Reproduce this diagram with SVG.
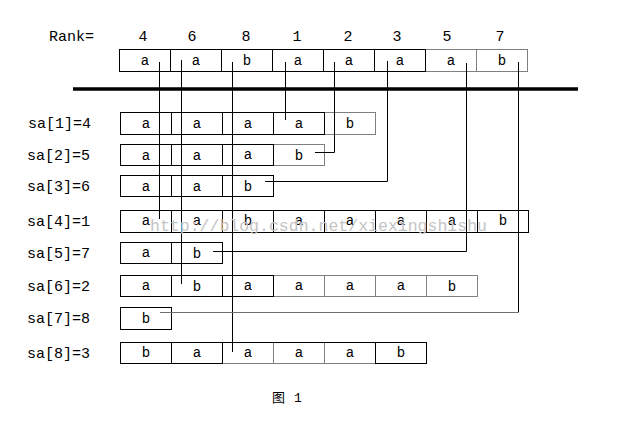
<svg xmlns="http://www.w3.org/2000/svg" width="619" height="430" viewBox="0 0 619 430">
<style>
.bg{fill:#fff}
.k{fill:#fff;stroke:#000;stroke-width:1}
.g{fill:#fff;stroke:#808080;stroke-width:1}
.c{font-family:"Liberation Mono","DejaVu Sans Mono",monospace;font-size:14px;fill:#000;text-anchor:middle}
.lbl{font-family:"Liberation Mono","DejaVu Sans Mono",monospace;font-size:15px;fill:#000}
.num{font-family:"Liberation Mono","DejaVu Sans Mono",monospace;font-size:15px;fill:#000;text-anchor:middle}
.wm{font-family:"Liberation Mono","DejaVu Sans Mono",monospace;font-size:17px;fill:#c4c4c4}
.ln{fill:none;stroke:#000;stroke-width:1}
.lg{fill:none;stroke:#707070;stroke-width:1}
</style>
<rect class="bg" x="0" y="0" width="619" height="430"/>

<g id="rank">
<text class="lbl" x="49" y="41">Rank=</text>
<text class="num" x="143" y="41">4</text>
<text class="num" x="192" y="41">6</text>
<text class="num" x="246" y="41">8</text>
<text class="num" x="297" y="41">1</text>
<text class="num" x="348" y="41">2</text>
<text class="num" x="397" y="41">3</text>
<text class="num" x="447" y="41">5</text>
<text class="num" x="500" y="41">7</text>
</g>

<g id="string">
<rect class="g" x="425.5" y="49.5" width="51" height="22"/>
<rect class="g" x="476.5" y="49.5" width="51" height="22"/>
<rect class="k" x="119.5" y="49.5" width="51" height="22"/>
<rect class="k" x="170.5" y="49.5" width="51" height="22"/>
<rect class="k" x="221.5" y="49.5" width="51" height="22"/>
<rect class="k" x="272.5" y="49.5" width="51" height="22"/>
<rect class="k" x="323.5" y="49.5" width="51" height="22"/>
<rect class="k" x="374.5" y="49.5" width="51" height="22"/>
<text class="c" x="145" y="65">a</text>
<text class="c" x="196" y="65">a</text>
<text class="c" x="247" y="65">b</text>
<text class="c" x="298" y="65">a</text>
<text class="c" x="349" y="65">a</text>
<text class="c" x="400" y="65">a</text>
<text class="c" x="451" y="65">a</text>
<text class="c" x="502" y="65">b</text>
</g>

<g id="divider">
<line x1="73" y1="89" x2="578" y2="89" stroke="#000" stroke-width="3.5"/>
</g>

<g id="sa1">
<text class="lbl" x="28" y="128">sa[1]=4</text>
<rect class="g" x="324.5" y="112.5" width="51" height="22"/>
<rect class="k" x="120.5" y="112.5" width="51" height="22"/>
<rect class="k" x="171.5" y="112.5" width="51" height="22"/>
<rect class="k" x="222.5" y="112.5" width="51" height="22"/>
<rect class="k" x="273.5" y="112.5" width="51" height="22"/>
<text class="c" x="146" y="128">a</text>
<text class="c" x="197" y="128">a</text>
<text class="c" x="248" y="128">a</text>
<text class="c" x="299" y="128">a</text>
<text class="c" x="350" y="128">b</text>
</g>

<g id="sa2">
<text class="lbl" x="27" y="160">sa[2]=5</text>
<rect class="g" x="273.5" y="144.5" width="51" height="21"/>
<rect class="k" x="120.5" y="144.5" width="51" height="21"/>
<rect class="k" x="171.5" y="144.5" width="51" height="21"/>
<rect class="k" x="222.5" y="144.5" width="51" height="21"/>
<text class="c" x="146" y="160">a</text>
<text class="c" x="197" y="160">a</text>
<text class="c" x="248" y="159">a</text>
<text class="c" x="299" y="160">b</text>
</g>

<g id="sa3">
<text class="lbl" x="27" y="191">sa[3]=6</text>
<rect class="k" x="120.5" y="175.5" width="51" height="21"/>
<rect class="k" x="171.5" y="175.5" width="51" height="21"/>
<rect class="k" x="222.5" y="175.5" width="51" height="21"/>
<text class="c" x="146" y="191">a</text>
<text class="c" x="197" y="191">a</text>
<text class="c" x="248" y="191">b</text>
</g>

<g id="sa4">
<text class="lbl" x="27" y="226">sa[4]=1</text>
<rect class="k" x="120.5" y="210.5" width="51" height="22"/>
<rect class="k" x="171.5" y="210.5" width="51" height="22"/>
<rect class="k" x="222.5" y="210.5" width="51" height="22"/>
<rect class="k" x="273.5" y="210.5" width="51" height="22"/>
<rect class="k" x="324.5" y="210.5" width="51" height="22"/>
<rect class="k" x="375.5" y="210.5" width="51" height="22"/>
<rect class="k" x="426.5" y="210.5" width="51" height="22"/>
<rect class="k" x="477.5" y="210.5" width="51" height="22"/>
<text class="c" x="146" y="225">a</text>
<text class="c" x="197" y="225">a</text>
<text class="c" x="248" y="225">b</text>
<text class="c" x="299" y="225">a</text>
<text class="c" x="350" y="225">a</text>
<text class="c" x="401" y="225">a</text>
<text class="c" x="452" y="225">a</text>
<text class="c" x="503" y="225">b</text>
</g>

<g id="sa5">
<text class="lbl" x="27" y="258">sa[5]=7</text>
<rect class="k" x="120.5" y="242.5" width="51" height="21"/>
<rect class="k" x="171.5" y="242.5" width="51" height="21"/>
<text class="c" x="146" y="257">a</text>
<text class="c" x="197" y="258">b</text>
</g>

<g id="sa6">
<text class="lbl" x="27" y="291">sa[6]=2</text>
<rect class="g" x="273.5" y="275.5" width="51" height="21"/>
<rect class="g" x="324.5" y="275.5" width="51" height="21"/>
<rect class="g" x="375.5" y="275.5" width="51" height="21"/>
<rect class="g" x="426.5" y="275.5" width="51" height="21"/>
<rect class="k" x="120.5" y="275.5" width="51" height="21"/>
<rect class="k" x="171.5" y="275.5" width="51" height="21"/>
<rect class="k" x="222.5" y="275.5" width="51" height="21"/>
<text class="c" x="146" y="290">a</text>
<text class="c" x="197" y="291">b</text>
<text class="c" x="248" y="290">a</text>
<text class="c" x="299" y="290">a</text>
<text class="c" x="350" y="290">a</text>
<text class="c" x="401" y="290">a</text>
<text class="c" x="452" y="291">b</text>
</g>

<g id="sa7">
<text class="lbl" x="27" y="323">sa[7]=8</text>
<rect class="k" x="120.5" y="307.5" width="51" height="22"/>
<text class="c" x="146" y="323">b</text>
</g>

<g id="sa8">
<text class="lbl" x="27" y="358">sa[8]=3</text>
<rect class="g" x="222.5" y="342.5" width="51" height="21"/>
<rect class="g" x="273.5" y="342.5" width="51" height="21"/>
<rect class="g" x="324.5" y="342.5" width="51" height="21"/>
<rect class="k" x="375.5" y="342.5" width="51" height="21"/>
<rect class="k" x="120.5" y="342.5" width="51" height="21"/>
<rect class="k" x="171.5" y="342.5" width="51" height="21"/>
<path class="ln" d="M222.5 342.5H426.5"/>
<text class="c" x="146" y="357">b</text>
<text class="c" x="197" y="357">a</text>
<text class="c" x="248" y="357">a</text>
<text class="c" x="299" y="357">a</text>
<text class="c" x="350" y="357">a</text>
<text class="c" x="401" y="357">b</text>
</g>

<g id="connectors">
<path class="ln" d="M159.5 62V219"/>
<path class="ln" d="M181.5 60V284"/>
<path class="ln" d="M232.5 62V352"/>
<path class="ln" d="M285.5 62V120"/>
<path class="ln" d="M334.5 62V152.5H315"/>
<path class="ln" d="M387.5 61V181.5H265"/>
<path class="ln" d="M466.5 63V251.5H213"/>
<path class="ln" d="M518.5 62V312.5"/>
<path class="lg" d="M518 312.5H160"/>
</g>

<text class="wm" x="150" y="231" textLength="337" lengthAdjust="spacingAndGlyphs">http://blog.csdn.net/xiexingshishu</text>

<text x="272" y="402" font-family="'Noto Sans CJK SC',sans-serif" font-size="13" fill="#000">图<tspan dx="9" font-family="'Liberation Mono',monospace">1</tspan></text>
</svg>
